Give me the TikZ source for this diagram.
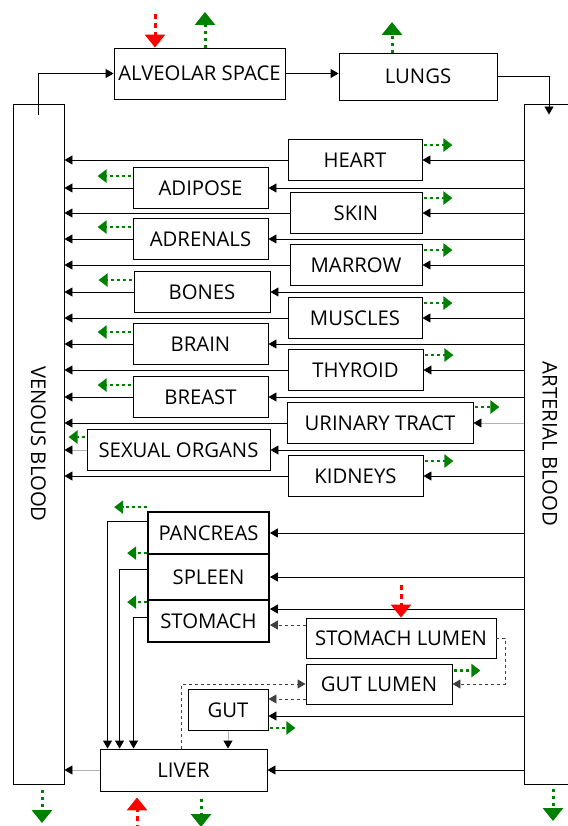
\documentclass[tikz,border=0pt]{standalone}
\usepackage{fontspec}
\setmainfont{Open Sans}
\usetikzlibrary{arrows.meta, positioning, calc}
\definecolor{outgreen}{RGB}{0,128,0}
\definecolor{dosered}{RGB}{255,0,0}

\begin{document}
\begin{tikzpicture}[x=1pt, y=-1pt,
    font=\fontsize{20.3}{24}\selectfont,
    box/.style={draw, line width=0.9pt, inner sep=0pt, minimum height=41},
    thickbox/.style={box, line width=1.8pt},
    flow/.style={line width=0.9pt, -{Triangle[length=8pt, width=9pt]}},
    paleflow/.style={flow, gray!60, -{Triangle[length=8pt, width=9pt, color=black]}},
    lumflow/.style={flow, dashed, black!75},
    exitside/.style={outgreen, line width=2.6pt, dash pattern=on 3pt off 3pt,
                     -{Triangle[length=9pt, width=13pt]}},
    exitbig/.style={outgreen, line width=3pt, dash pattern=on 3pt off 4pt,
                    -{Triangle[length=13pt, width=20pt]}},
    dose/.style={dosered, line width=3pt, dash pattern=on 5pt off 4pt,
                 -{Triangle[length=13pt, width=20pt]}}]
  \useasboundingbox (0,0) rectangle (567,826);

  % Blood pools
  \node[box, minimum width=51, minimum height=680] (ven) at (38.5,444) {};
  \node[rotate=-90] (venlabel) at (ven) {VENOUS BLOOD};
  \node[box, minimum width=76, minimum height=680] (art) at (562,444) {};
  \node[rotate=-90] (artlabel) at (550,444) {ARTERIAL BLOOD};

  % Lungs
  \node[box, minimum width=171, minimum height=51] (alv) at (199.5,73.5) {ALVEOLAR SPACE};
  \node[box, minimum width=158, minimum height=47] (lungs) at (418,76.5) {LUNGS};
  \draw[flow] ([yshift=-11pt]ven.north) |- (alv.west);
  \draw[flow] (alv.east) -- (alv.east -| lungs.west);
  \draw[flow] (lungs.east) -| ($(art.north)+(-13,11)$);
  \coordinate (alvdose) at (155,14);
  \coordinate (alvout) at (205,12);
  \coordinate (lungsout) at (392,22);
  \draw[dose] (alvdose) -- (alvdose |- alv.north);
  \draw[exitbig] (alvout |- alv.north) -- (alvout);
  \draw[exitbig] (lungsout |- lungs.north) -- (lungsout);

  % Tissues
  \node[box, minimum width=134] (heart) at (355,160) {HEART};
  \node[box, minimum width=135] (adipose) at (200.5,188) {ADIPOSE};
  \node[box, minimum width=132] (skin) at (356,213) {SKIN};
  \node[box, minimum width=135] (adrenals) at (200.5,239) {ADRENALS};
  \node[box, minimum width=132] (marrow) at (356,265) {MARROW};
  \node[box, minimum width=136] (bones) at (202,292) {BONES};
  \node[box, minimum width=134] (muscles) at (355,318) {MUSCLES};
  \node[box, minimum width=135] (brain) at (200.5,344) {BRAIN};
  \node[box, minimum width=135] (thyroid) at (355.5,370) {THYROID};
  \node[box, minimum width=135] (breast) at (200.5,397) {BREAST};
  \node[box, minimum width=186] (urinary) at (380,423) {URINARY TRACT};
  \node[box, minimum width=183] (sexual) at (178.5,450) {SEXUAL ORGANS};
  \node[box, minimum width=135] (kidneys) at (355.5,476) {KIDNEYS};

  \foreach \org in {heart, adipose, skin, adrenals, marrow, bones, muscles,
                    brain, thyroid, breast, sexual, kidneys}
    \draw[flow] (art.west |- \org.east) -- (\org.east);
  \foreach \org in {heart, adipose, skin, adrenals, marrow, bones, muscles,
                    brain, thyroid, breast, urinary, kidneys}
    \draw[flow] (\org.west) -- (ven.east |- \org.west);
  \draw[paleflow] (art.west |- urinary.east) -- (urinary.east);
  \draw[paleflow] (sexual.west) -- (ven.east |- sexual.west);

  % Elimination
  \foreach \org in {heart, skin, marrow, muscles, thyroid, kidneys}
    \draw[exitside] ([shift={(2,6)}]\org.north east) -- ++(28,0);
  \draw[exitside] ([shift={(2,5)}]urinary.north east) -- ++(24,0);
  \foreach \org in {adipose, adrenals, bones, brain, breast}
    \draw[exitside] ([shift={(-2,9)}]\org.north west) -- ++(-33,0);
  \draw[exitside] ([shift={(-2,8)}]sexual.north west) -- ++(-16,0);

  % Splanchnic organs
  \node[thickbox, minimum width=121, minimum height=42] (pancreas) at (208.5,533) {PANCREAS};
  \node[thickbox, minimum width=121, minimum height=46] (spleen) at (208.5,577) {SPLEEN};
  \node[thickbox, minimum width=121, minimum height=42] (stomach) at (208.5,621) {STOMACH};
  \node[box, minimum width=190, minimum height=40] (slumen) at (401,638) {STOMACH LUMEN};
  \node[box, minimum width=146, minimum height=40] (glumen) at (379,684) {GUT LUMEN};
  \node[box, minimum width=80] (gut) at (228,710) {GUT};
  \node[box, minimum width=167, minimum height=42] (liver) at (183.5,770) {LIVER};

  \coordinate (stomin) at ([yshift=12pt]stomach.east);
  \coordinate (stomlum) at ([yshift=-4pt]stomach.east);
  \coordinate (gutin) at ([yshift=-6pt]gut.east);
  \coordinate (gutlum) at ([yshift=11pt]gut.east);
  \draw[flow] (art.west |- pancreas.east) -- (pancreas.east);
  \draw[flow] (art.west |- spleen.east) -- (spleen.east);
  \draw[flow] (art.west |- stomin) -- (stomin);
  \draw[flow] (art.west |- gutin) -- (gutin);
  \draw[flow] (art.west |- liver.east) -- (liver.east);
  \draw[paleflow] (liver.west) -- (ven.east |- liver.west);
  \draw[paleflow] (gut.south) -- (gut.south |- liver.north);
  \draw[flow] ([yshift=12pt]pancreas.west) -| ([xshift=8pt]liver.north west);
  \draw[flow] ([yshift=8pt]spleen.west) -| ([xshift=20pt]liver.north west);
  \draw[flow] ([yshift=4pt]stomach.west) -| ([xshift=34pt]liver.north west);

  % Lumen transfer
  \draw[lumflow] (slumen.west |- stomlum) -- (stomlum);
  \draw[lumflow] (slumen.east) -- ++(9,0) |- (glumen.east);
  \draw[lumflow] (glumen.west |- gutlum) -- (gutlum);
  \draw[lumflow] ([xshift=82pt]liver.north west) |- (glumen.west);

  \draw[exitside] ([yshift=4pt]pancreas.north west) -- ++(-33,0);
  \draw[exitside] (spleen.north west) -- ++(-20,0);
  \draw[exitside] ([yshift=-3pt]stomach.north west) -- ++(-20,0);
  \draw[exitside] ([shift={(2,7)}]glumen.north east) -- ++(26,0);
  \draw[exitside] ([shift={(2,-3)}]gut.south east) -- ++(25,0);

  % Doses and outflows
  \coordinate (slumdose) at (401,585);
  \coordinate (liverdose) at (137,830);
  \coordinate (liverout) at (201,827);
  \coordinate (venout) at (42,823);
  \coordinate (artout) at (553,821);
  \draw[dose] (slumdose) -- (slumdose |- slumen.north);
  \draw[dose, shorten >=6pt] (liverdose) -- (liverdose |- liver.south);
  \draw[exitbig, shorten <=8pt] (liverout |- liver.south) -- (liverout);
  \draw[exitbig, shorten <=6pt] (venout |- ven.south) -- (venout);
  \draw[exitbig, shorten <=5pt] (artout |- art.south) -- (artout);
\end{tikzpicture}
\end{document}
